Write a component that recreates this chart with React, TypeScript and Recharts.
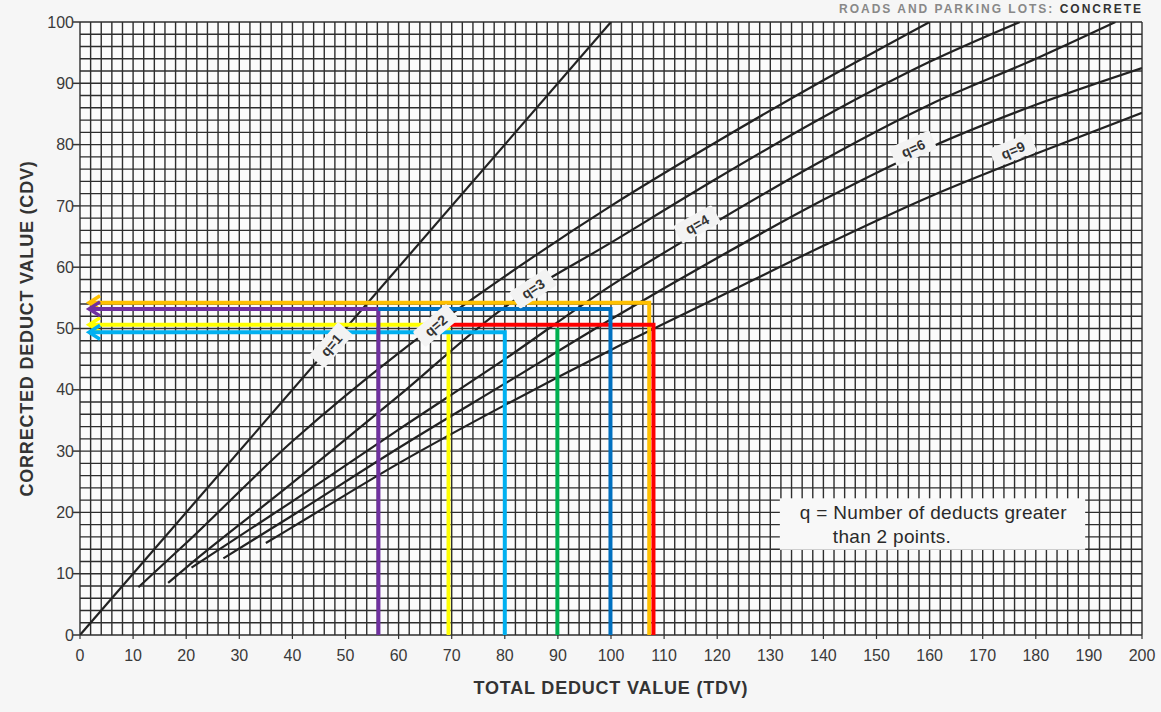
import {
  CartesianGrid,
  ComposedChart,
  Label,
  Line,
  ReferenceArea,
  Scatter,
  XAxis,
  YAxis,
} from 'recharts'

// ---- axis ticks (labels every 10, grid every 2) ----
const tdvTickLabels = [0, 10, 20, 30, 40, 50, 60, 70, 80, 90, 100, 110, 120, 130, 140, 150, 160, 170, 180, 190, 200]
const cdvTickLabels = [0, 10, 20, 30, 40, 50, 60, 70, 80, 90, 100]
const tdvGrid = Array.from({ length: 101 }, (_, i) => i * 2)
const cdvGrid = Array.from({ length: 51 }, (_, i) => i * 2)

// ---- CDV curves ----
const q1Tdv = [0, 100]
const q1Cdv = [0, 100]
const q2Tdv = [11, 20, 40, 60, 80, 100, 120, 140, 160]
const q2Cdv = [7.8, 15, 31.6, 46, 58.5, 70, 80.5, 90.5, 100]
const q3Tdv = [16.6, 20, 40, 60, 80, 100, 120, 140, 160, 177]
const q3Cdv = [8.5, 11, 24.8, 39, 53.5, 64, 74.5, 84.5, 93.5, 100]
const q4Tdv = [21, 40, 60, 80, 100, 120, 140, 160, 180, 195]
const q4Cdv = [11, 21.8, 33.5, 45, 57, 67.5, 77.5, 86.5, 94, 100]
const q6Tdv = [27, 40, 60, 80, 100, 120, 140, 160, 180, 200]
const q6Cdv = [12.5, 19.5, 30.5, 41, 51.5, 61.5, 71, 79.5, 86.5, 92.5]
const q9Tdv = [35, 40, 60, 80, 100, 120, 140, 160, 180, 200]
const q9Cdv = [15, 17.6, 28, 37.5, 46.5, 55, 63.5, 71.5, 78.5, 85.2]

// curve tags
const tagText = ['q=1', 'q=2', 'q=3', 'q=4', 'q=6', 'q=9']
const tagTdv = [47.3, 67, 85.3, 116.2, 156.9, 175.7]
const tagCdv = [47.3, 50.5, 56.5, 67, 79.4, 79.1]
const tagAngles = [-49, -40, -33, -29, -24, -22]

// ---- hand-drawn lookups (TDV -> CDV) ----
const yellowTdv = [1.7, 69.4, 69.4]
const yellowCdv = [50.6, 50.6, 0]
const lightBlueTdv = [1.7, 80, 80]
const lightBlueCdv = [49.4, 49.4, 0]
const orangeTdv = [1.7, 107.2, 107.2]
const orangeCdv = [54.2, 54.2, 0]
const redTdv = [69.4, 108, 108]
const redCdv = [50.6, 50.6, 0]
const purpleTdv = [1.7, 56.2, 56.2]
const purpleCdv = [53.2, 53.2, 0]
const darkBlueTdv = [56.2, 99.9, 99.9]
const darkBlueCdv = [53.2, 53.2, 0]
const greenTdv = [89.9, 89.9]
const greenCdv = [50.1, 0]

// note box corners
const noteTdv = [131.8, 189.3]
const noteCdv = [13.9, 22.3]

const FONT = '"Liberation Sans", Arial, Helvetica, sans-serif'

const toPoints = (xs: number[], ys: number[]) => xs.map((x, i) => ({ x, y: ys[i] }))

const curves = [
  toPoints(q1Tdv, q1Cdv),
  toPoints(q2Tdv, q2Cdv),
  toPoints(q3Tdv, q3Cdv),
  toPoints(q4Tdv, q4Cdv),
  toPoints(q6Tdv, q6Cdv),
  toPoints(q9Tdv, q9Cdv),
]

const tags = tagText.map((tag, i) => ({ x: tagTdv[i], y: tagCdv[i], tag, angle: tagAngles[i] }))

const lookups = [
  { id: 'yellow', color: '#FFFF00', points: toPoints(yellowTdv, yellowCdv), arrow: true },
  { id: 'lightblue', color: '#00B0F0', points: toPoints(lightBlueTdv, lightBlueCdv), arrow: true },
  { id: 'orange', color: '#FFC000', points: toPoints(orangeTdv, orangeCdv), arrow: true },
  { id: 'red', color: '#FF0000', points: toPoints(redTdv, redCdv), arrow: false },
  { id: 'purple', color: '#7030A0', points: toPoints(purpleTdv, purpleCdv), arrow: true },
  { id: 'darkblue', color: '#0070C0', points: toPoints(darkBlueTdv, darkBlueCdv), arrow: false },
  { id: 'green', color: '#00B050', points: toPoints(greenTdv, greenCdv), arrow: false },
]

function XTick(props: any) {
  const { x, y, payload } = props
  if (!tdvTickLabels.includes(payload.value)) return null
  return (
    <g>
      <line x1={x} x2={x} y1={y} y2={y + 4} stroke="#333" strokeWidth={1.2} />
      <text x={x} y={y + 15} dy="0.71em" textAnchor="middle" fontSize={16} fill="#3a3a3a" fontFamily={FONT}>
        {payload.value}
      </text>
    </g>
  )
}

function YTick(props: any) {
  const { x, y, payload } = props
  if (!cdvTickLabels.includes(payload.value)) return null
  return (
    <g>
      <line x1={x - 7} x2={x} y1={y} y2={y} stroke="#333" strokeWidth={1.5} />
      <text x={x - 6} y={y} dy="0.355em" textAnchor="end" fontSize={16} fill="#3a3a3a" fontFamily={FONT}>
        {payload.value}
      </text>
    </g>
  )
}

function CurveTag(props: any) {
  const { cx, cy, payload } = props
  if (cx == null || cy == null) return null
  return (
    <g transform={`translate(${cx},${cy}) rotate(${payload.angle})`}>
      <rect x={-22} y={-10} width={44} height={20} fill="#f3f3f3" rx={2} />
      <text x={0} y={0} dy="0.36em" textAnchor="middle" fontSize={14} fontWeight={700} fill="#333" fontFamily={FONT}>
        {payload.tag}
      </text>
    </g>
  )
}

function NoteBox(props: any) {
  const { x, y, width, height } = props
  return (
    <g>
      <rect x={x} y={y} width={width} height={height} fill="#f8f8f8" />
      <text x={x + 20} y={y + 21} fontSize={19} letterSpacing={0.3} fill="#2a2a2a" fontFamily={FONT}>
        q = Number of deducts greater
      </text>
      <text x={x + 53} y={y + 45} fontSize={19} letterSpacing={0.3} fill="#2a2a2a" fontFamily={FONT}>
        than 2 points.
      </text>
    </g>
  )
}

function XTitle(props: any) {
  const { viewBox } = props
  return (
    <text
      x={viewBox.x + viewBox.width / 2}
      y={viewBox.y + 59}
      textAnchor="middle"
      fontSize={18}
      fontWeight={700}
      letterSpacing={0.8}
      fill="#333"
      fontFamily={FONT}
    >
      TOTAL DEDUCT VALUE (TDV)
    </text>
  )
}

function YTitle(props: any) {
  const { viewBox } = props
  const cx = 33
  const cy = viewBox.y + viewBox.height / 2
  return (
    <text
      x={cx}
      y={cy}
      transform={`rotate(-90, ${cx}, ${cy})`}
      textAnchor="middle"
      fontSize={18}
      fontWeight={700}
      letterSpacing={0.8}
      fill="#333"
      fontFamily={FONT}
    >
      CORRECTED DEDUCT VALUE (CDV)
    </text>
  )
}

export default function App() {
  return (
    <div
      style={{
        position: 'absolute',
        left: 0,
        top: 0,
        width: 1161,
        height: 712,
        overflow: 'hidden',
        background: '#f6f6f6',
      }}
    >
      <div
        style={{
          position: 'absolute',
          top: 2,
          right: 18,
          fontFamily: FONT,
          fontWeight: 700,
          fontSize: 12,
          lineHeight: '14px',
          letterSpacing: 2,
          color: '#888',
          whiteSpace: 'nowrap',
        }}
      >
        ROADS AND PARKING LOTS: <span style={{ color: '#333' }}>CONCRETE</span>
      </div>
      <ComposedChart width={1161} height={712} margin={{ top: 22, right: 19, bottom: 47, left: 0 }}>
        <defs>
          {lookups
            .filter((l) => l.arrow)
            .map((l) => (
              <marker
                key={l.id}
                id={`arrow-${l.id}`}
                markerUnits="userSpaceOnUse"
                viewBox="0 0 16 18"
                markerWidth={16}
                markerHeight={18}
                refX={14}
                refY={9}
                orient="auto-start-reverse"
                overflow="visible"
              >
                <path d="M 3 2 L 14 9 L 3 16" fill="none" stroke={l.color} strokeWidth={3.5} />
              </marker>
            ))}
        </defs>
        <CartesianGrid stroke="#2e2e2e" strokeWidth={1.4} fill="#fbfbfb" />
        <XAxis
          type="number"
          dataKey="x"
          domain={[0, 200]}
          ticks={tdvGrid}
          interval={0}
          allowDataOverflow
          tick={<XTick />}
          tickLine={false}
          axisLine={false}
          tickSize={0}
          tickMargin={0}
          height={30}
          label={<Label content={<XTitle />} />}
        />
        <YAxis
          type="number"
          dataKey="y"
          domain={[0, 100]}
          ticks={cdvGrid}
          interval={0}
          allowDataOverflow
          tick={<YTick />}
          tickLine={false}
          axisLine={false}
          tickSize={0}
          tickMargin={0}
          width={80}
          label={<Label content={<YTitle />} />}
        />
        <ReferenceArea
          x1={noteTdv[0]}
          x2={noteTdv[1]}
          y1={noteCdv[0]}
          y2={noteCdv[1]}
          shape={<NoteBox />}
        />
        {curves.map((pts, i) => (
          <Line
            key={`curve-${i}`}
            data={pts}
            dataKey="y"
            type="monotone"
            stroke="#222"
            strokeWidth={2.2}
            dot={false}
            activeDot={false}
            isAnimationActive={false}
          />
        ))}
        <Scatter data={tags} dataKey="y" shape={<CurveTag />} isAnimationActive={false} />
        {lookups.map((l) => (
          <Line
            key={l.id}
            data={l.points}
            dataKey="y"
            type="linear"
            stroke={l.color}
            strokeWidth={4}
            strokeLinecap="butt"
            strokeLinejoin="miter"
            dot={false}
            activeDot={false}
            markerStart={l.arrow ? `url(#arrow-${l.id})` : undefined}
            isAnimationActive={false}
          />
        ))}
      </ComposedChart>
    </div>
  )
}
